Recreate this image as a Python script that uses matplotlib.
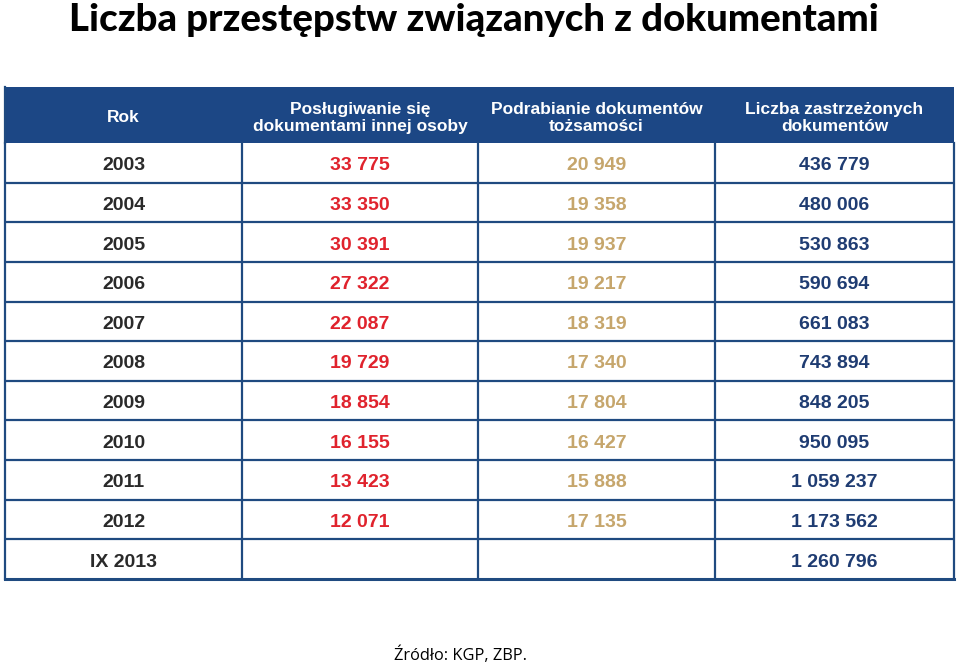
import matplotlib
matplotlib.use("Agg")
import matplotlib.pyplot as plt
from matplotlib.patches import Rectangle

title = "Liczba przestępstw związanych z dokumentami"
source = "Źródło: KGP, ZBP."
headers = ["Rok", "Posługiwanie się\ndokumentami innej osoby",
           "Podrabianie dokumentów\ntożsamości", "Liczba zastrzeżonych\ndokumentów"]
years = ["2003", "2004", "2005", "2006", "2007", "2008", "2009", "2010", "2011", "2012", "IX 2013"]
uzywanie = ["33 775", "33 350", "30 391", "27 322", "22 087", "19 729", "18 854", "16 155", "13 423", "12 071", ""]
podrabianie = ["20 949", "19 358", "19 937", "19 217", "18 319", "17 340", "17 804", "16 427", "15 888", "17 135", ""]
zastrzezone = ["436 779", "480 006", "530 863", "590 694", "661 083", "743 894", "848 205", "950 095", "1 059 237", "1 173 562", "1 260 796"]

W, H = 960, 666
fig = plt.figure(figsize=(W / 100, H / 100), dpi=100)
ax = fig.add_axes([0, 0, 1, 1])
ax.set_xlim(0, W)
ax.set_ylim(H, 0)
ax.axis("off")

header_blue = "#1c4785"
line_blue = "#1f4a80"
col_colors = ["#2a2a2a", "#e0232d", "#c6a66c", "#1f3c72"]

x_edges = [5, 242, 478, 715, 954]
head_top, head_bot = 87, 143
row_h = (579 - head_bot) / len(years)

# header
ax.add_patch(Rectangle((x_edges[0], head_top), x_edges[-1] - x_edges[0], head_bot - head_top,
                       facecolor=header_blue, edgecolor="none"))
for i, h in enumerate(headers):
    cx = (x_edges[i] + x_edges[i + 1]) / 2
    ax.text(cx, (head_top + head_bot) / 2 + 3, h, ha="center", va="center", color="white",
            fontsize=12.5, fontweight="bold", family="Liberation Sans", linespacing=1.15)

# body
columns = [years, uzywanie, podrabianie, zastrzezone]
n = len(years)
for r in range(n):
    cy = head_bot + (r + 0.5) * row_h
    for c, col in enumerate(columns):
        cx = (x_edges[c] + x_edges[c + 1]) / 2
        ax.text(cx, cy + 3, col[r], ha="center", va="center", color=col_colors[c],
                fontsize=14, fontweight="bold", family="Liberation Sans")

bottom = head_bot + n * row_h
for r in range(1, n):
    y = head_bot + r * row_h
    ax.plot([x_edges[0], x_edges[-1]], [y, y], color=line_blue, lw=1.6, solid_capstyle="butt")
for x in x_edges:
    ax.plot([x, x], [head_bot, bottom], color=line_blue, lw=1.6)
ax.plot([x_edges[0], x_edges[-1]], [bottom, bottom], color=line_blue, lw=2.2)
ax.plot([x_edges[0], x_edges[0]], [head_top, head_bot], color=line_blue, lw=1.6)

# title
t = ax.text(474, 31, title, ha="center", va="baseline", color="black",
            fontsize=30, fontweight="black", family="Lato")
fig.canvas.draw()
bb = t.get_window_extent()
target = 808
t.set_fontsize(30 * target / bb.width)

ax.text(461, 655, source, ha="center", va="center", color="black",
        fontsize=11.8, family="Open Sans")

fig.savefig("out.png", dpi=100)
